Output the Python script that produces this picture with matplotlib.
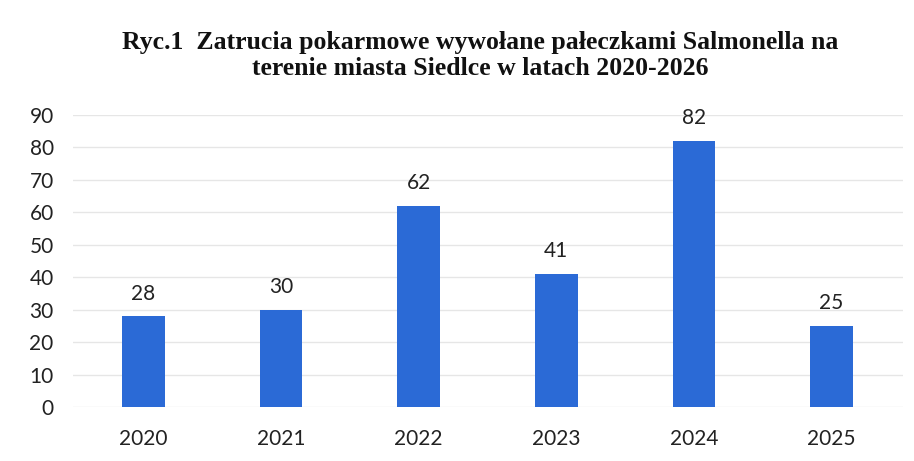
import matplotlib
matplotlib.use("Agg")
import matplotlib.pyplot as plt

years = ["2020", "2021", "2022", "2023", "2024", "2025"]
values = [28, 30, 62, 41, 82, 25]
yticks = [0, 10, 20, 30, 40, 50, 60, 70, 80, 90]
title = "Ryc.1  Zatrucia pokarmowe wywołane pałeczkami Salmonella na\nterenie miasta Siedlce w latach 2020-2026"

fig = plt.figure(figsize=(9.14, 4.61), dpi=100)
ax = fig.add_axes([0.08, 0.117, 0.908, 0.634])

x = list(range(len(years)))
ax.bar(x, values, width=0.31, color="#2b6ad6", zorder=3)
for xi, v in zip(x, values):
    ax.annotate(str(v), (xi, v), xytext=(0, 9), textcoords="offset points",
                ha="center", va="bottom", fontsize=15, family="Lato", color="#222222")

ax.set_xlim(-0.51, 5.52)
ax.set_ylim(0, 90)
ax.set_yticks(yticks)
ax.set_xticks(x)
ax.set_xticklabels(years)
ax.grid(axis="y", color="#e6e6e6", linewidth=1, zorder=0)
for s in ax.spines.values():
    s.set_visible(False)
ax.tick_params(axis="both", length=0, labelsize=15, colors="#222222")
ax.tick_params(axis="y", pad=14)
ax.tick_params(axis="x", pad=16)
for lab in ax.get_xticklabels() + ax.get_yticklabels():
    lab.set_family("Lato")

fig.text(0.525, 0.933, title, ha="center", va="top", fontsize=18.5,
         family="Liberation Serif", fontweight="bold", linespacing=1.15, color="#111111")

fig.savefig("out.png", dpi=100)
